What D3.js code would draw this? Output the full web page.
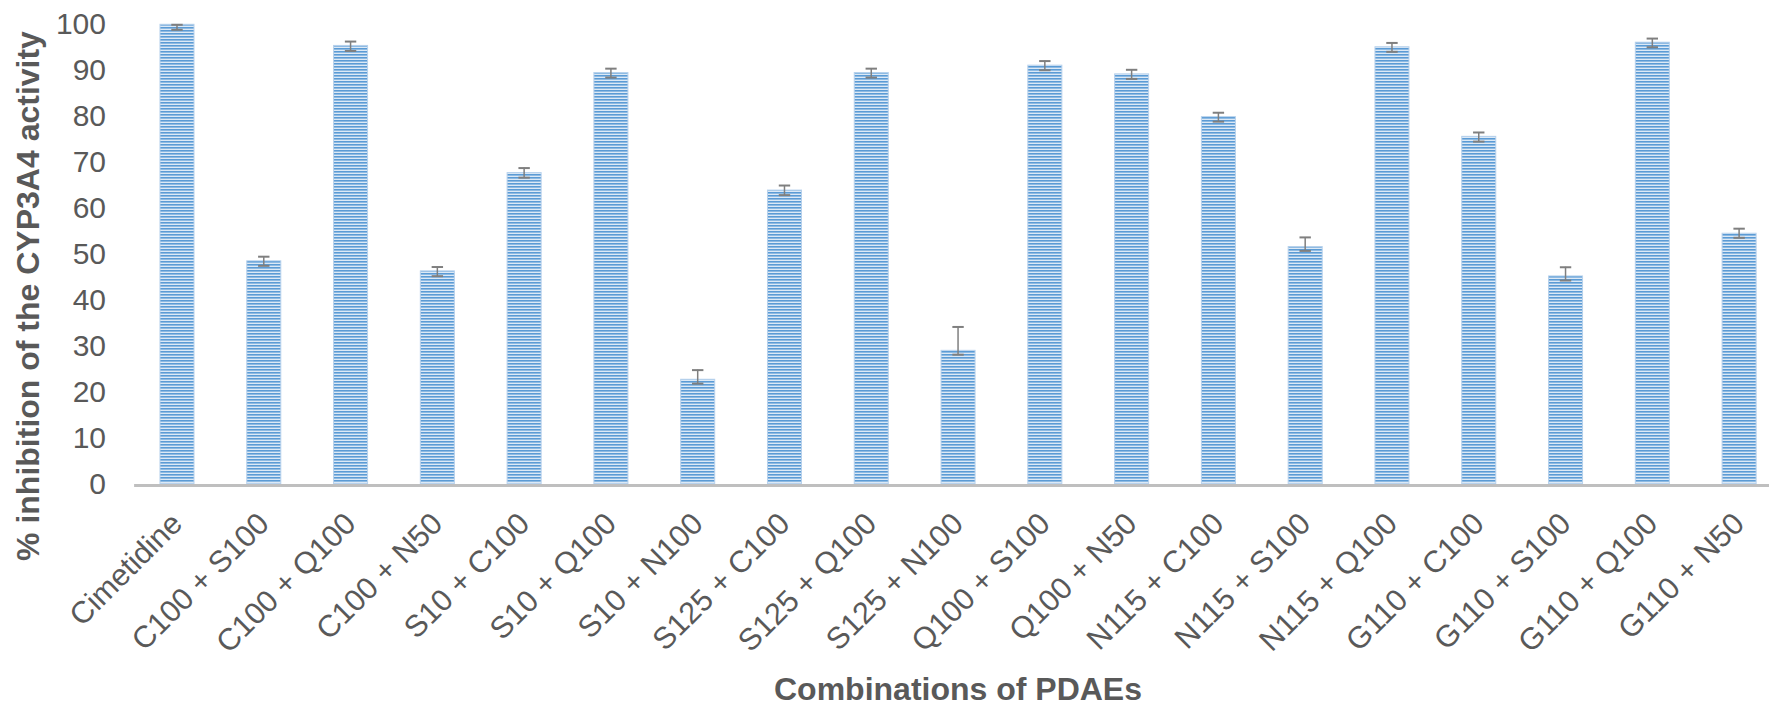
<!DOCTYPE html>
<html>
<head>
<meta charset="utf-8">
<script src="https://cdn.jsdelivr.net/npm/d3@7"></script>
<style>
  html, body { margin: 0; padding: 0; background: #ffffff; }
  svg { display: block; }
</style>
</head>
<body>
<svg id="chart" width="1769" height="708"></svg>
<script>
const categories = ["Cimetidine","C100 + S100","C100 + Q100","C100 + N50","S10 + C100","S10 + Q100","S10 + N100","S125 + C100","S125 + Q100","S125 + N100","Q100 + S100","Q100 + N50","N115 + C100","N115 + S100","N115 + Q100","G110 + C100","G110 + S100","G110 + Q100","G110 + N50"];
const values = [100, 48.5, 95.4, 46.3, 67.7, 89.5, 22.7, 63.9, 89.5, 29.0, 91.1, 89.2, 79.9, 51.6, 95.1, 75.6, 45.2, 96.1, 54.5];
const errPlus = [1.2, 1.0, 0.95, 0.95, 1.1, 0.95, 2.1, 1.1, 0.95, 5.2, 1.0, 1.0, 0.95, 2.1, 0.95, 0.95, 2.0, 0.9, 1.1];
const errMinus = [1.2, 1.1, 1.2, 1.15, 1.1, 1.1, 0.95, 1.1, 1.1, 0.95, 1.1, 1.1, 1.1, 0.95, 1.1, 1.15, 1.0, 1.1, 1.0];
const yTicks = [0, 10, 20, 30, 40, 50, 60, 70, 80, 90, 100];
const yTitle = "% inhibition of the CYP3A4 activity";
const xTitle = "Combinations of PDAEs";

const svg = d3.select("#chart");
const textColor = "#595959";
const font = "Liberation Sans, Arial, sans-serif";

const x = d3.scaleBand().domain(categories).range([133.6, 1782.5]).paddingInner(0.608).paddingOuter(0.304);
const y = d3.scaleLinear().domain([0, 100]).range([483.5, 24.3]);

// stripe pattern
const defs = svg.append("defs");
const pat = defs.append("pattern").attr("id", "stripes").attr("patternUnits", "userSpaceOnUse")
  .attr("width", 10).attr("height", 3);
pat.append("rect").attr("width", 10).attr("height", 3).attr("fill", "#dce9f6");
pat.append("rect").attr("width", 10).attr("height", 1.6).attr("fill", "#5b9bd5");

// bars
svg.append("g").selectAll("rect").data(categories).join("rect")
  .attr("x", d => x(d))
  .attr("y", (d, i) => y(values[i]))
  .attr("width", x.bandwidth())
  .attr("height", (d, i) => y(0) - y(values[i]))
  .attr("fill", "url(#stripes)")
  .attr("stroke", "#b7d1ec")
  .attr("stroke-width", 1);

// error bars
const eb = svg.append("g").attr("stroke", "#7f7f7f");
categories.forEach((c, i) => {
  const cx = x(c) + x.bandwidth() / 2;
  const top = y(Math.min(100, values[i] + errPlus[i]));
  const bot = y(values[i] - errMinus[i]);
  eb.append("line").attr("x1", cx).attr("x2", cx).attr("y1", top).attr("y2", bot).attr("stroke-width", 1.5);
  eb.append("line").attr("x1", cx - 5.7).attr("x2", cx + 5.7).attr("y1", top + 0.5).attr("y2", top + 0.5).attr("stroke-width", 2);
  eb.append("line").attr("x1", cx - 5.7).attr("x2", cx + 5.7).attr("y1", bot).attr("y2", bot).attr("stroke-width", 2);
});

// y axis
const yAxis = svg.append("g").attr("transform", "translate(106,0)")
  .call(d3.axisLeft(y).tickValues(yTicks).tickSize(0).tickPadding(0));
yAxis.select(".domain").remove();
yAxis.selectAll("text").attr("fill", textColor).attr("font-size", 30).attr("font-family", font);

// x axis
const xAxis = svg.append("g").attr("transform", `translate(0,${y(0)})`)
  .call(d3.axisBottom(x).tickSize(0).tickSizeOuter(0));
xAxis.select(".domain").attr("stroke", "#bfbfbf").attr("stroke-width", 3).attr("transform", "translate(0,1.5)");
xAxis.selectAll("text")
  .attr("fill", textColor).attr("font-size", 30.5).attr("font-family", font)
  .attr("y", 0).attr("dy", 0)
  .attr("text-anchor", "end")
  .attr("transform", "translate(7,42) rotate(-45)");

// titles
svg.append("text").attr("transform", "translate(39,296) rotate(-90)")
  .attr("text-anchor", "middle").attr("fill", textColor)
  .attr("font-size", 32).attr("font-weight", "bold").attr("font-family", font)
  .text(yTitle);
svg.append("text").attr("x", 958).attr("y", 700)
  .attr("text-anchor", "middle").attr("fill", textColor)
  .attr("font-size", 32).attr("font-weight", "bold").attr("font-family", font)
  .text(xTitle);
</script>
</body>
</html>
